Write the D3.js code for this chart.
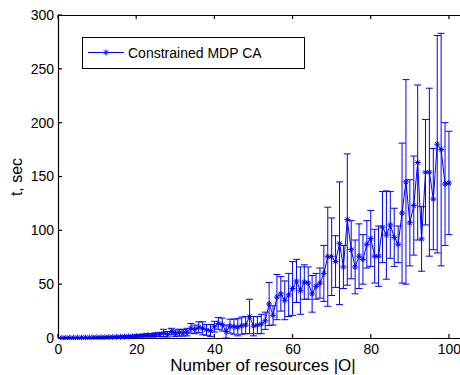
<!DOCTYPE html>
<html><head><meta charset="utf-8">
<script src="https://cdn.jsdelivr.net/npm/d3@7"></script>
<style>body{margin:0;background:#fff}svg{display:block}text{font-family:"Liberation Sans",Arial,sans-serif}</style>
</head><body>
<svg id="c" width="460" height="375"></svg>
<script>
const resources = [1,2,3,4,5,6,7,8,9,10,11,12,13,14,15,16,17,18,19,20,21,22,23,24,25,26,27,28,29,30,31,32,33,34,35,36,37,38,39,40,41,42,43,44,45,46,47,48,49,50,51,52,53,54,55,56,57,58,59,60,61,62,63,64,65,66,67,68,69,70,71,72,73,74,75,76,77,78,79,80,81,82,83,84,85,86,87,88,89,90,91,92,93,94,95,96,97,98,99,100];
const meanTime = [0.1,0.1,0.2,0.2,0.3,0.3,0.4,0.4,0.5,0.6,0.6,0.7,0.8,0.9,1.0,1.1,1.3,1.4,1.6,1.8,2.0,2.3,2.6,2.5,3.0,3.2,4.6,3.5,6.0,4.5,5.0,4.8,5.5,9.0,8.0,10.0,9.0,7.5,7.0,10.5,13.6,12.5,6.0,11.0,10.5,10.0,11.5,12.0,20.0,11.0,12,13,16,31.6,21,38,41,35,40,46,53,44,52,51,41,48,51,60,75.5,75.5,71,88,66,110,82,66,76,73,87,92.5,76,76,103,95.6,105,93.5,87,116,145,107,123,163,92,154,154,129,180,175,143,144];
const errTime = [0.05,0.05,0.1,0.1,0.1,0.15,0.2,0.2,0.2,0.3,0.3,0.3,0.4,0.4,0.5,0.6,0.6,0.7,0.8,1.0,1.1,1.2,1.4,1.5,1.7,1.8,3.5,2.5,3.0,3.0,3.2,3.0,3.5,4.5,4.0,5.0,6.0,5.0,5.5,5.0,5.5,6.0,6.0,6.5,7.0,8.0,8.0,8.0,16.0,9.0,8,9,8,20,9,21,16,18,20,25,20,22,16,15,17,12,14,26,46,36,24,57,20,61,27,25,30,23,22,26,25,28,33,41,31,27,17,65,95,40,46,72,30,49,78,47,101,108,57,48];
const xTicks = [0,20,40,60,80,100];
const yTicks = [0,50,100,150,200,250,300];
const seriesName = "Constrained MDP CA";
const xLabel = "Number of resources |O|";
const yLabel = "t, sec";

const data = resources.map((r,i)=>({x:r,y:meanTime[i],e:errTime[i]}));
const svg = d3.select("#c");
const L=58, T=15, B=338, R=468.5;
const x = d3.scaleLinear().domain([0,105]).range([L,R]);
const y = d3.scaleLinear().domain([0,300]).range([B,T]);
const blue = "#0000ff";

svg.append("defs").append("clipPath").attr("id","clip").append("rect")
  .attr("x",L).attr("y",T-2).attr("width",R-L).attr("height",B-T+4);

// axes box
const xAxis = d3.axisBottom(x).tickValues(xTicks).tickSize(0).tickPadding(6);
const gx = svg.append("g").attr("transform",`translate(0,${B})`).call(xAxis);
gx.select(".domain").remove();
gx.selectAll("text").attr("font-size",14).attr("fill","#000").attr("font-family","Liberation Sans, Arial, sans-serif");
const yAxis = d3.axisLeft(y).tickValues(yTicks).tickSize(0).tickPadding(4);
const gy = svg.append("g").attr("transform",`translate(${L},0)`).call(yAxis);
gy.select(".domain").remove();
gy.selectAll("text").attr("font-size",14).attr("fill","#000").attr("font-family","Liberation Sans, Arial, sans-serif");

const frame = svg.append("g").attr("stroke","#000").attr("stroke-width",1.2).attr("fill","none");
frame.append("line").attr("x1",L).attr("x2",R).attr("y1",B+0.5).attr("y2",B+0.5);
frame.append("line").attr("x1",L).attr("x2",R).attr("y1",T+0.5).attr("y2",T+0.5);
frame.append("line").attr("x1",L+0.5).attr("x2",L+0.5).attr("y1",T).attr("y2",B+1);
// inward ticks
xTicks.forEach(t=>{
  frame.append("line").attr("x1",x(t)).attr("x2",x(t)).attr("y1",B).attr("y2",B-4);
  frame.append("line").attr("x1",x(t)).attr("x2",x(t)).attr("y1",T).attr("y2",T+4);
});
yTicks.forEach(t=>{
  frame.append("line").attr("x1",L).attr("x2",L+4).attr("y1",y(t)).attr("y2",y(t));
});

// error bars
const plot = svg.append("g").attr("clip-path","url(#clip)");
const eb = plot.append("g").attr("stroke",blue).attr("stroke-width",1).attr("fill","none");
const cap = 3.5;
data.forEach(d=>{
  const cx=x(d.x), y1=y(d.y+d.e), y0=y(Math.max(d.y-d.e,-5));
  eb.append("line").attr("x1",cx).attr("x2",cx).attr("y1",y1).attr("y2",y0);
  eb.append("line").attr("x1",cx-cap).attr("x2",cx+cap).attr("y1",y1).attr("y2",y1);
  eb.append("line").attr("x1",cx-cap).attr("x2",cx+cap).attr("y1",y0).attr("y2",y0);
});
// line
plot.append("path").datum(data).attr("fill","none").attr("stroke",blue).attr("stroke-width",1)
  .attr("d",d3.line().x(d=>x(d.x)).y(d=>y(d.y)));
// asterisk markers
function star(g,cx,cy,r){
  const p = `M${cx-r},${cy}L${cx+r},${cy}M${cx},${cy-r}L${cx},${cy+r}M${cx-r*0.7},${cy-r*0.7}L${cx+r*0.7},${cy+r*0.7}M${cx-r*0.7},${cy+r*0.7}L${cx+r*0.7},${cy-r*0.7}`;
  g.append("path").attr("d",p).attr("stroke",blue).attr("stroke-width",1).attr("fill","none");
}
const mk = plot.append("g");
data.forEach(d=>star(mk,x(d.x),y(d.y),3));

// legend
const lg = svg.append("g");
lg.append("rect").attr("x",82.5).attr("y",37.5).attr("width",222).attr("height",31)
  .attr("fill","#fff").attr("stroke","#000").attr("stroke-width",1);
lg.append("line").attr("x1",88).attr("x2",124).attr("y1",52.5).attr("y2",52.5).attr("stroke",blue).attr("stroke-width",1);
star(lg,106,52.5,3);
lg.append("text").attr("x",128).attr("y",58).attr("font-size",14).attr("fill","#000").text(seriesName);

// labels
svg.append("text").attr("x",263).attr("y",371).attr("text-anchor","middle").attr("font-size",17).attr("fill","#000").text(xLabel);
svg.append("text").attr("transform","translate(22,177) rotate(-90)").attr("text-anchor","middle").attr("font-size",16).attr("fill","#000").text(yLabel);
</script>
</body></html>
